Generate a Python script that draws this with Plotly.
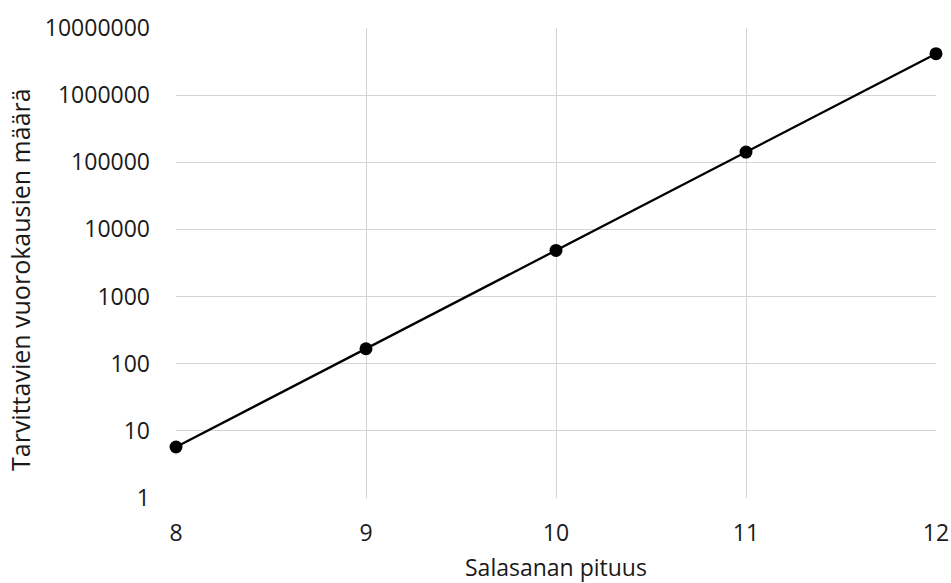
import plotly.graph_objects as go

# Data
password_length = [8, 9, 10, 11, 12]
days_needed = [5.75, 167, 4870, 142000, 4140000]
y_tick_vals = [1, 10, 100, 1000, 10000, 100000, 1000000, 10000000]
y_tick_text = ["1", "10", "100", "1000", "10000", "100000", "1000000", "10000000"]
x_tick_vals = [8, 9, 10, 11, 12]
x_title = "Salasanan pituus"
y_title = "Tarvittavien vuorokausien määrä"

FONT = "Open Sans"
TXT = "#1a1a1a"
GRID = "#d4d4d4"
FS = 23

W, H = 951, 583
L, R, T, B = 176, 15, 28, 85
PW, PH = W - L - R, H - T - B

fig = go.Figure()
fig.add_trace(go.Scatter(
    x=password_length, y=days_needed,
    mode="lines+markers",
    line=dict(color="black", width=2.3),
    marker=dict(color="black", size=13),
    cliponaxis=False,
    showlegend=False,
))

fig.update_layout(
    width=W, height=H, autosize=False,
    margin=dict(l=L, r=R, t=T, b=B, autoexpand=False),
    paper_bgcolor="white", plot_bgcolor="white",
    font=dict(family=FONT, size=FS, color=TXT),
    xaxis=dict(
        range=[8, 12], tickvals=x_tick_vals, automargin=False,
        showgrid=True, gridcolor=GRID, gridwidth=1.3,
        zeroline=False, showline=False, ticks="",
        ticklabelstandoff=19, ticklabeloverflow="allow",
        tickfont=dict(family=FONT, size=FS, color=TXT),
    ),
    yaxis=dict(
        type="log", range=[0, 7], automargin=False,
        tickvals=y_tick_vals, ticktext=y_tick_text,
        showgrid=True, gridcolor=GRID, gridwidth=1.3,
        zeroline=False, showline=False, ticks="",
        ticklabelstandoff=25,
        tickfont=dict(family=FONT, size=FS, color=TXT),
    ),
    annotations=[
        dict(text=x_title, xref="paper", yref="paper", x=0.5, y=(H - B - 567) / PH,
             xanchor="center", yanchor="middle", showarrow=False,
             font=dict(family=FONT, size=FS, color=TXT)),
        dict(text=y_title, xref="paper", yref="paper", x=(20 - L) / PW, y=(H - B - 280) / PH,
             xanchor="center", yanchor="middle", textangle=-90, showarrow=False,
             font=dict(family=FONT, size=25, color=TXT)),
    ],
)

fig.write_html("out.html", config={"displayModeBar": False},
               post_script="document.body.style.margin='0';")
